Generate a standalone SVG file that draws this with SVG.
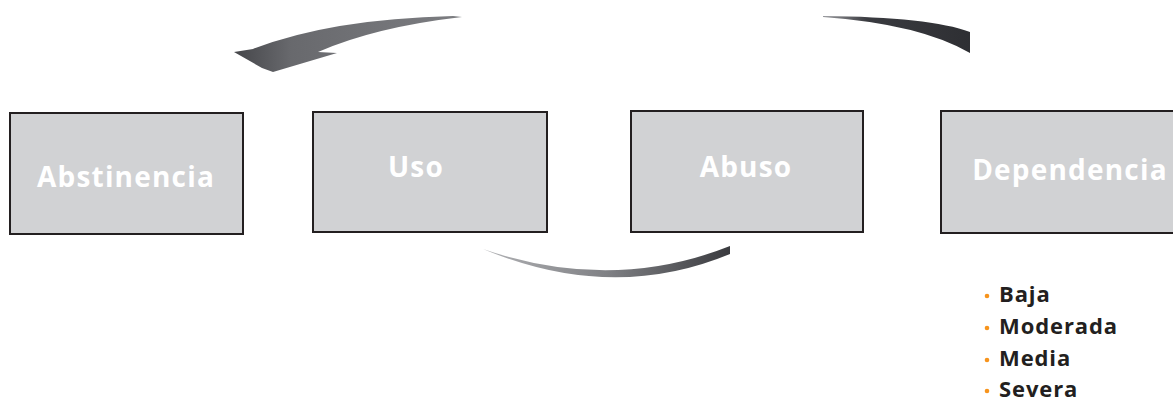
<svg xmlns="http://www.w3.org/2000/svg" width="1173" height="402" viewBox="0 0 1173 402">
  <style>
    .box { fill: #d1d2d4; stroke: #231f20; stroke-width: 2; }
    .lbl { font-family: "Open Sans", "Noto Sans", sans-serif; font-weight: 700; font-size: 28px; fill: #ffffff; text-anchor: middle; letter-spacing: 1.2px; }
    .item { font-family: "Open Sans", "Noto Sans", sans-serif; font-weight: 700; font-size: 22px; fill: #231f20; letter-spacing: 0.9px; }
    .dot { fill: #f7941d; }
  </style>
  <defs>
    <linearGradient id="gLeft" x1="0" y1="0" x2="1" y2="0">
      <stop offset="0" stop-color="#45464a"/>
      <stop offset="0.25" stop-color="#68696d"/>
      <stop offset="1" stop-color="#7c7d81"/>
    </linearGradient>
    <linearGradient id="gRight" x1="0" y1="0" x2="1" y2="0">
      <stop offset="0" stop-color="#9a9b9f"/>
      <stop offset="0.3" stop-color="#3a3b40"/>
      <stop offset="1" stop-color="#2e2f33"/>
    </linearGradient>
    <linearGradient id="gBottom" x1="0" y1="0" x2="1" y2="0">
      <stop offset="0" stop-color="#b0b1b4"/>
      <stop offset="0.5" stop-color="#808185"/>
      <stop offset="1" stop-color="#3a3b3f"/>
    </linearGradient>
  </defs>

  <g id="connectors">
    <path id="top-arrow-head" d="M 234,52 L 253,49 Q 330,19 453,16 L 462,17 Q 375,27 318,52 L 337,53 L 273,72 L 262,68 Z" fill="url(#gLeft)"/>
    <path id="top-arrow-tail" d="M 823,16 Q 930,17 970,32 L 970,53 Q 920,24 823,17 Z" fill="url(#gRight)"/>
    <path id="bottom-arc" d="M 483,249 Q 612,303 730,254 L 730,246 Q 612,293 483,249 Z" fill="url(#gBottom)"/>
  </g>

  <g id="node-abstinencia">
    <rect class="box" x="10" y="113" width="233" height="121"/>
    <text class="lbl" x="126" y="187">Abstinencia</text>
  </g>
  <g id="node-uso">
    <rect class="box" x="313" y="112" width="234" height="120"/>
    <text class="lbl" x="416" y="177">Uso</text>
  </g>
  <g id="node-abuso">
    <rect class="box" x="631" y="111" width="232" height="121"/>
    <text class="lbl" x="746" y="177">Abuso</text>
  </g>
  <g id="node-dependencia">
    <rect class="box" x="941" y="111" width="240" height="122"/>
    <text class="lbl" x="1070" y="180">Dependencia</text>
  </g>

  <g id="levels">
    <circle class="dot" cx="987" cy="296" r="2.3"/>
    <text class="item" x="999" y="302">Baja</text>
    <circle class="dot" cx="987" cy="328" r="2.3"/>
    <text class="item" x="999" y="334">Moderada</text>
    <circle class="dot" cx="987" cy="360" r="2.3"/>
    <text class="item" x="999" y="366">Media</text>
    <circle class="dot" cx="987" cy="391" r="2.3"/>
    <text class="item" x="999" y="397">Severa</text>
  </g>
</svg>
